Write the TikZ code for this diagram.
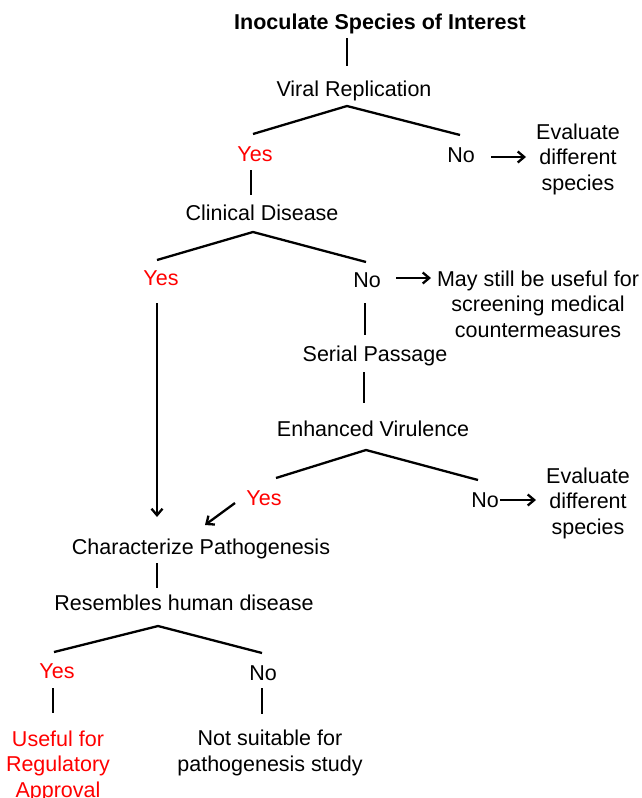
\documentclass[tikz,border=0pt]{standalone}
\usepackage{fontspec}
\setmainfont{Liberation Sans}
\usetikzlibrary{arrows.meta}
\begin{document}
\begin{tikzpicture}[x=1pt,y=-1pt,
  lbl/.style={inner sep=0pt, font=\fontsize{21.5}{25}\selectfont, align=center, text height=17pt, text depth=0pt},
  mlbl/.style={inner sep=0pt, font=\fontsize{21.5}{25.5}\selectfont, align=center},
  yes/.style={lbl, text=red},
  ln/.style={line width=2.3pt},
  arr/.style={line width=2.3pt, -{Straight Barb[length=6.5pt,width=11pt,line width=2.3pt]}}]
\useasboundingbox (0,0) rectangle (641,798);

% texts
\node[lbl, font=\fontsize{21.5}{25}\bfseries\selectfont] (title) at (380,21) {Inoculate Species of Interest};
\node[lbl] (vr) at (354,88) {Viral Replication};
\node[yes] (y1) at (255,153) {Yes};
\node[lbl] (n1) at (461,154) {No};
\node[mlbl] (ev1) at (578,159) {Evaluate\\different\\species};
\node[lbl] (cd) at (262,212) {Clinical Disease};
\node[yes] (y2) at (161,277) {Yes};
\node[lbl] (n2) at (367,279) {No};
\node[mlbl] (may) at (538,304) {May still be useful for\\screening medical\\countermeasures};
\node[lbl] (sp) at (375,353) {Serial Passage};
\node[lbl] (evir) at (373,428) {Enhanced Virulence};
\node[yes] (y3) at (264,497) {Yes};
\node[lbl] (n3) at (485,499) {No};
\node[mlbl] (ev2) at (588,503) {Evaluate\\different\\species};
\node[lbl] (cp) at (201,546) {Characterize Pathogenesis};
\node[lbl] (rh) at (184,602) {Resembles human disease};
\node[yes] (y4) at (57,670) {Yes};
\node[lbl] (n4) at (263,672) {No};
\node[mlbl, text=red] (use) at (58,766) {Useful for\\Regulatory\\Approval};
\node[mlbl] (ns) at (270,753) {Not suitable for\\pathogenesis study};

% connector end points
\coordinate (t1a) at (347,38);  \coordinate (t1b) at (347,66);
\coordinate (r1) at (347,106);  \coordinate (r1l) at (253,134); \coordinate (r1r) at (460,135);
\coordinate (a1a) at (491,157); \coordinate (a1b) at (526,157);
\coordinate (v1a) at (251,170); \coordinate (v1b) at (251,195);
\coordinate (r2) at (253,232);  \coordinate (r2l) at (157,260); \coordinate (r2r) at (366,262);
\coordinate (a2a) at (396,278); \coordinate (a2b) at (431,278);
\coordinate (la) at (157,303);  \coordinate (lb) at (157,517);
\coordinate (v2a) at (365,303); \coordinate (v2b) at (365,335);
\coordinate (v3a) at (364,372); \coordinate (v3b) at (364,403);
\coordinate (r3) at (366,450);  \coordinate (r3l) at (276,478); \coordinate (r3r) at (478,480);
\coordinate (a3a) at (500,500); \coordinate (a3b) at (536,500);
\coordinate (da) at (235,503);  \coordinate (db) at (205,525);
\coordinate (v4a) at (157,563); \coordinate (v4b) at (157,588);
\coordinate (r4) at (158,626);  \coordinate (r4l) at (54,652);  \coordinate (r4r) at (262,653);
\coordinate (v5a) at (53,688);  \coordinate (v5b) at (53,713);
\coordinate (v6a) at (262,688); \coordinate (v6b) at (262,714);

% connectors
\draw[ln] (t1a) -- (t1b);
\draw[ln] (r1l) -- (r1) -- (r1r);
\draw[arr] (a1a) -- (a1b);
\draw[ln] (v1a) -- (v1b);
\draw[ln] (r2l) -- (r2) -- (r2r);
\draw[arr] (a2a) -- (a2b);
\draw[arr] (la) -- (lb);
\draw[ln] (v2a) -- (v2b);
\draw[ln] (v3a) -- (v3b);
\draw[ln] (r3l) -- (r3) -- (r3r);
\draw[arr] (a3a) -- (a3b);
\draw[arr] (da) -- (db);
\draw[ln] (v4a) -- (v4b);
\draw[ln] (r4l) -- (r4) -- (r4r);
\draw[ln] (v5a) -- (v5b);
\draw[ln] (v6a) -- (v6b);
\end{tikzpicture}
\end{document}
